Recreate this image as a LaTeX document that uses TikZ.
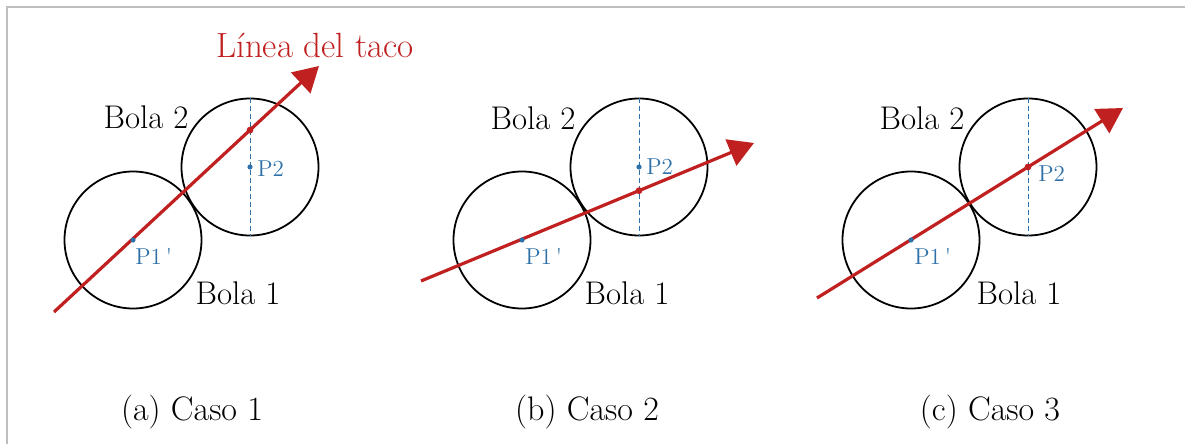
\documentclass[tikz,border=0pt]{standalone}
\usepackage{tikz}
\usetikzlibrary{arrows.meta,positioning}
\definecolor{cuered}{RGB}{192,32,32}
\definecolor{ptblue}{RGB}{46,112,168}
\definecolor{framegray}{RGB}{190,190,190}
\tikzset{
  ball/.style={circle, draw=black, line width=0.9pt, minimum size=68.5pt, inner sep=0pt},
  cue/.style={draw=cuered, line width=1.6pt, -{Triangle[length=12.5pt,width=14pt]}},
  vline/.style={draw=ptblue, dash pattern=on 2.5pt off 1.5pt, line width=0.5pt},
  lbl/.style={font=\fontsize{16.4}{19}\selectfont, inner sep=0pt},
  caplbl/.style={font=\fontsize{17}{20}\selectfont, inner sep=0pt},
  plbl/.style={font=\fontsize{11.5}{13}\selectfont, text=ptblue, inner sep=0pt},
}

\begin{document}
\begin{tikzpicture}[x=0.5pt,y=-0.5pt]
\useasboundingbox (0,0) rectangle (1185,444);
% Frame (top and left edges)
\draw[framegray, line width=1pt] (1185,7) -- (7,7) -- (7,444);

% Caso 1
\node[ball] (b1a) at (133,240) {};
\node[ball] (b2a) at (250,167) {};
\draw[vline] (b2a.north) -- (b2a.south);
\coordinate (sa) at (54,312);
\coordinate (ta) at (319,66);
\draw[cue] (sa) -- (ta);
\fill[cuered] (intersection of sa--ta and b2a.north--b2a.south) circle (1.7pt);
\node[font=\fontsize{17.5}{20}\selectfont, text=cuered] (cuelbl) at (315,45) {Línea del taco};
\node[lbl] (b2la) at (146,117) {Bola 2};
\node[lbl] (b1la) at (238,293) {Bola 1};
\node[plbl, anchor=west] (p2a) at (257,169) {P2};
\node[plbl, anchor=west] (p1a) at (135,256) {P1\,\textquotesingle};
\node[caplbl] (capa) at (192,412) {(a) Caso 1};

% Caso 2
\node[ball] (b1b) at (522,240) {};
\node[ball] (b2b) at (639,167) {};
\draw[vline] (b2b.north) -- (b2b.south);
\coordinate (sb) at (421,281);
\coordinate (tb) at (754,143);
\draw[cue] (sb) -- (tb);
\fill[cuered] (intersection of sb--tb and b2b.north--b2b.south) circle (1.7pt);
\node[lbl] (b2lb) at (533,118) {Bola 2};
\node[lbl] (b1lb) at (627,293) {Bola 1};
\node[plbl, anchor=west] (p2b) at (646,167) {P2};
\node[plbl, anchor=west] (p1b) at (525,256) {P1\,\textquotesingle};
\node[caplbl] (capb) at (587,412) {(b) Caso 2};

% Caso 3
\node[ball] (b1c) at (911,240) {};
\node[ball] (b2c) at (1028,167) {};
\draw[vline] (b2c.north) -- (b2c.south);
\coordinate (sc) at (817,298);
\coordinate (tc) at (1123,108);
\draw[cue] (sc) -- (tc);
\fill[cuered] (b2c.center) circle (1.7pt);
\node[lbl] (b2lc) at (922,118) {Bola 2};
\node[lbl] (b1lc) at (1019,293) {Bola 1};
\node[plbl, anchor=west] (p2c) at (1038,174) {P2};
\node[plbl, anchor=west] (p1c) at (914,256) {P1\,\textquotesingle};
\node[caplbl] (capc) at (990,412) {(c) Caso 3};

% Centre dots
\foreach \c in {b1a,b2a,b1b,b2b,b1c} {\fill[ptblue] (\c.center) circle (1.3pt);}
\end{tikzpicture}
\end{document}
